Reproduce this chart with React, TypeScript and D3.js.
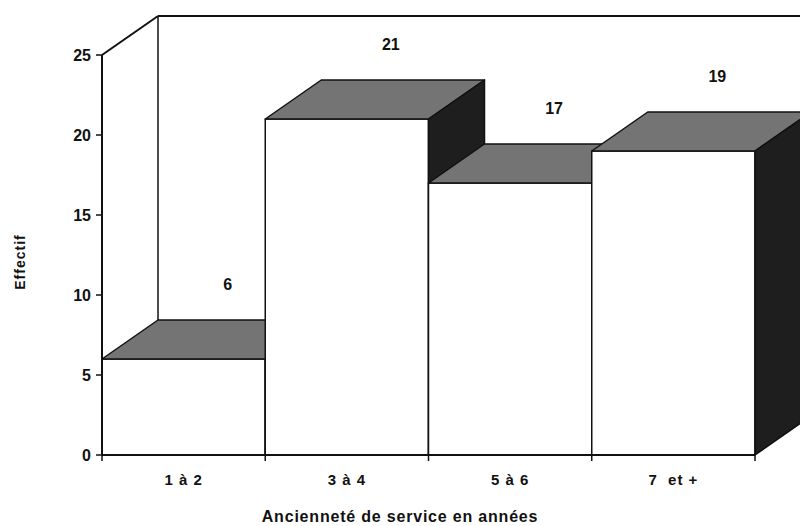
import React from "react";
import * as d3 from "d3";

const categories = ["1 à 2", "3 à 4", "5 à 6", "7  et +"];
const values = [6, 21, 17, 19];
const yTicks = [0, 5, 10, 15, 20, 25];
const yTitle = "Effectif";
const xTitle = "Ancienneté de service en années";

const W = 800;
const H = 526;
const DX = 56;
const DY = -39;
const FONT = "'Liberation Sans', Arial, sans-serif";

export default function App() {
  const x = d3.scaleBand<string>().domain(categories).range([102, 755]).padding(0);
  const y = d3.scaleLinear().domain([0, 25]).range([455, 55]);
  const bw = x.bandwidth();
  const y0 = y(0);
  const yMax = y(25);

  const poly = (pts: [number, number][]) => pts.map((p) => p.join(",")).join(" ");

  const boundaries = [...categories.map((c) => x(c)!), x(categories[categories.length - 1])! + bw];

  return (
    <svg
      width={W}
      height={H}
      style={{ position: "absolute", left: 0, top: 0, background: "#fff" }}
      fontFamily={FONT}
    >
      <rect x={0} y={0} width={W} height={H} fill="#fff" />
      {/* back wall frame */}
      <line x1={102} y1={yMax} x2={102 + DX} y2={yMax + DY} stroke="#111" strokeWidth={2} />
      <line x1={102 + DX} y1={yMax + DY} x2={W} y2={yMax + DY} stroke="#111" strokeWidth={2} />
      <line x1={102 + DX} y1={yMax + DY} x2={102 + DX} y2={y0 + DY} stroke="#111" strokeWidth={1.5} />

      {/* bars */}
      {categories.map((c, i) => {
        const x0 = x(c)!;
        const x1 = x0 + bw;
        const yt = y(values[i]);
        return (
          <g key={c} stroke="#111" strokeWidth={1.5} strokeLinejoin="round">
            <polygon points={poly([[x0, yt], [x1, yt], [x1, y0], [x0, y0]])} fill="#fff" />
            <polygon
              points={poly([[x0, yt], [x1, yt], [x1 + DX, yt + DY], [x0 + DX, yt + DY]])}
              fill="#747474"
            />
            <polygon
              points={poly([[x1, yt], [x1 + DX, yt + DY], [x1 + DX, y0 + DY], [x1, y0]])}
              fill="#1e1e1e"
            />
          </g>
        );
      })}

      {/* value labels */}
      {categories.map((c, i) => (
        <text
          key={"v" + c}
          x={x(c)! + bw / 2 + 44}
          y={y(values[i]) + DY - 30}
          textAnchor="middle"
          fontSize={16}
          fontWeight="bold"
          fill="#111"
        >
          {values[i]}
        </text>
      ))}

      {/* y axis */}
      <line x1={102} y1={y0} x2={102} y2={yMax} stroke="#111" strokeWidth={2} />
      {yTicks.map((t) => (
        <g key={"yt" + t}>
          <line x1={96} y1={y(t)} x2={102} y2={y(t)} stroke="#111" strokeWidth={1.5} />
          <text
            x={91}
            y={y(t)}
            dy="0.36em"
            textAnchor="end"
            fontSize={16}
            fontWeight="bold"
            fill="#111"
          >
            {t}
          </text>
        </g>
      ))}

      {/* x axis */}
      <line x1={102} y1={y0} x2={boundaries[boundaries.length - 1]} y2={y0} stroke="#111" strokeWidth={2} />
      {boundaries.map((b, i) => (
        <line key={"xt" + i} x1={b} y1={y0} x2={b} y2={y0 + 6} stroke="#111" strokeWidth={1.5} />
      ))}
      {categories.map((c) => (
        <text
          key={"xl" + c}
          x={x(c)! + bw / 2}
          y={485}
          textAnchor="middle"
          fontSize={15}
          fontWeight="bold"
          fill="#111"
          letterSpacing={1}
          style={{ whiteSpace: "pre" }}
        >
          {c}
        </text>
      ))}

      {/* titles */}
      <text
        transform={`translate(25, 262) rotate(-90)`}
        textAnchor="middle"
        fontSize={14}
        fontWeight="bold"
        fill="#111"
        letterSpacing={1}
      >
        {yTitle}
      </text>
      <text
        x={400}
        y={522}
        textAnchor="middle"
        fontSize={16}
        fontWeight="bold"
        fill="#111"
        letterSpacing={0.8}
      >
        {xTitle}
      </text>
    </svg>
  );
}
